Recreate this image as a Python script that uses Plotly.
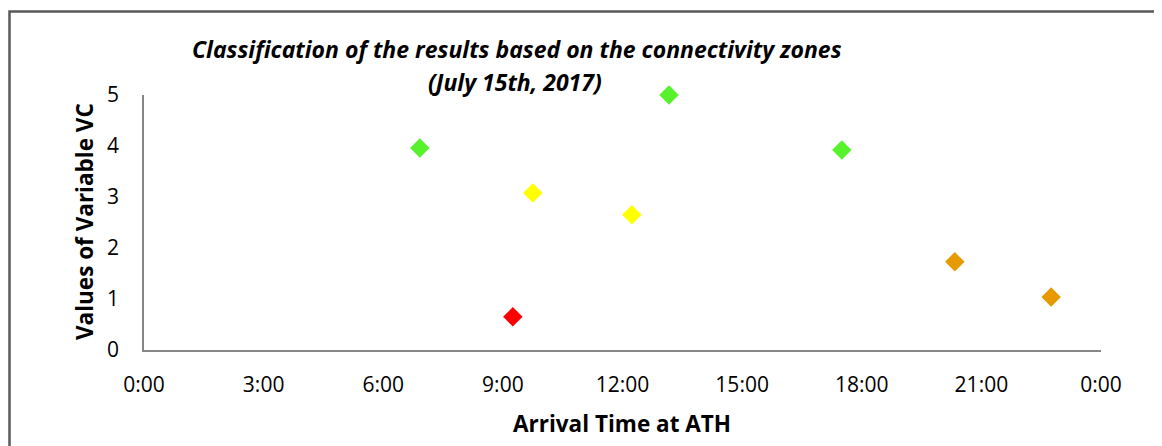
import plotly.graph_objects as go

# Data
arrival_time = ["06:55", "09:15", "09:45", "12:14", "13:10", "17:30", "20:20", "22:45"]
vc_values = [3.96, 0.65, 3.08, 2.65, 5.0, 3.92, 1.73, 1.04]
zone = ["green", "red", "yellow", "yellow", "green", "green", "orange", "orange"]
zone_colors = {"green": "#58F22C", "yellow": "#FFFF00", "red": "#FF0000", "orange": "#E69A00"}
tick_hours = [0, 3, 6, 9, 12, 15, 18, 21, 24]
y_ticks = [0, 1, 2, 3, 4, 5]

date = "2017-07-15"
xs = [f"{date} {t}:00" for t in arrival_time]

W, H = 1162, 446
OFF = 8  # page body margin
FONT = "Open Sans"


def px(x):
    return (x - OFF) / W


def py(y):
    return 1 - (y - OFF) / H


fig = go.Figure()
for z in ["green", "yellow", "red", "orange"]:
    idx = [i for i, zz in enumerate(zone) if zz == z]
    fig.add_trace(go.Scatter(
        x=[xs[i] for i in idx], y=[vc_values[i] for i in idx],
        mode="markers", name=z, cliponaxis=False,
        marker=dict(symbol="diamond", size=15, color=zone_colors[z], line=dict(width=0)),
    ))

tickvals = [f"2017-07-15 {h:02d}:00:00" if h < 24 else "2017-07-16 00:00:00" for h in tick_hours]
ticktext = [f"{h % 24}:00" for h in tick_hours]

fig.update_layout(
    width=W, height=H,
    margin=dict(l=0, r=0, t=0, b=0),
    paper_bgcolor="white", plot_bgcolor="white",
    showlegend=False,
    font=dict(family=FONT, size=21, color="black"),
    xaxis=dict(
        domain=[px(144), px(1101)], type="date", automargin=False,
        range=["2017-07-15 00:00:00", "2017-07-16 00:00:00"],
        tickvals=tickvals, ticktext=ticktext,
        showgrid=False, zeroline=False, showline=True, linecolor="#868686", linewidth=1.5,
        ticks="", ticklabelstandoff=15,
        tickfont=dict(family=FONT, size=21, color="black"),
    ),
    yaxis=dict(
        domain=[py(350), py(95)], range=[0, 5], automargin=False,
        tickvals=y_ticks,
        showgrid=False, zeroline=False, showline=True, linecolor="#868686", linewidth=1.5,
        ticks="", ticklabelstandoff=19,
        tickfont=dict(family=FONT, size=21, color="black"),
    ),
)

# chart frame
fig.add_shape(type="rect", xref="paper", yref="paper",
              x0=px(9.5), x1=1.02, y0=-0.05, y1=py(11.5),
              line=dict(color="#595959", width=2.5), fillcolor="rgba(0,0,0,0)", layer="below")

# titles
fig.add_annotation(text="<b><i>Classification of the results based on the connectivity zones</i></b>",
                   xref="paper", yref="paper", x=px(517), y=py(49), showarrow=False,
                   xanchor="center", yanchor="middle", font=dict(family=FONT, size=23, color="black"))
fig.add_annotation(text="<b><i>(July 15th, 2017)</i></b>",
                   xref="paper", yref="paper", x=px(515), y=py(82), showarrow=False,
                   xanchor="center", yanchor="middle", font=dict(family=FONT, size=23, color="black"))
fig.add_annotation(text="<b>Arrival Time at ATH</b>",
                   xref="paper", yref="paper", x=px(622), y=py(423), showarrow=False,
                   xanchor="center", yanchor="middle", font=dict(family=FONT, size=22.5, color="black"))
fig.add_annotation(text="<b>Values of Variable VC</b>",
                   xref="paper", yref="paper", x=px(84), y=py(222), showarrow=False, textangle=-90,
                   xanchor="center", yanchor="middle", font=dict(family=FONT, size=22.5, color="black"))

fig.write_html("out.html")
